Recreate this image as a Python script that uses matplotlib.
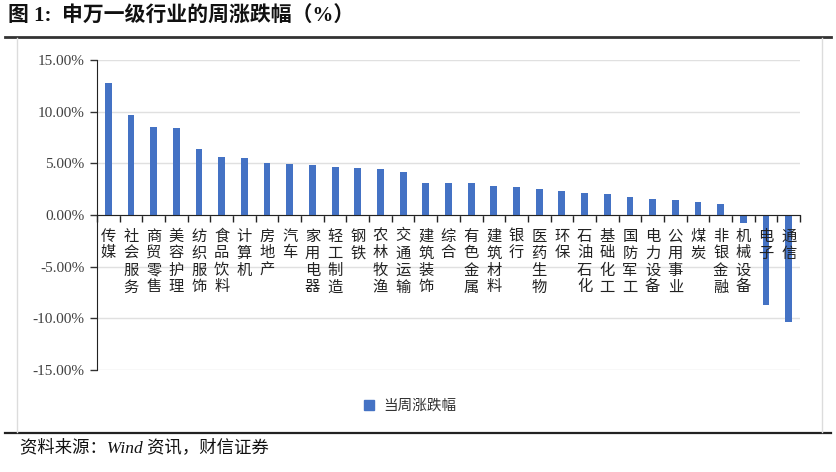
import matplotlib
matplotlib.use("Agg")
import matplotlib.pyplot as plt
from matplotlib.lines import Line2D
from matplotlib.ticker import FixedLocator, FuncFormatter
from matplotlib.patches import Patch
import numpy as np

plt.rcParams['font.family'] = ['Liberation Serif', 'Noto Sans CJK SC', 'DejaVu Sans']
plt.rcParams['axes.unicode_minus'] = False

categories = ["传媒", "社会服务", "商贸零售", "美容护理", "纺织服饰", "食品饮料", "计算机",
              "房地产", "汽车", "家用电器", "轻工制造", "钢铁", "农林牧渔", "交通运输",
              "建筑装饰", "综合", "有色金属", "建筑材料", "银行", "医药生物", "环保",
              "石油石化", "基础化工", "国防军工", "电力设备", "公用事业", "煤炭",
              "非银金融", "机械设备", "电子", "通信"]
values = [12.8, 9.7, 8.5, 8.4, 6.4, 5.6, 5.55, 5.0, 4.9, 4.8, 4.65, 4.55, 4.5, 4.2,
          3.1, 3.05, 3.05, 2.8, 2.75, 2.55, 2.3, 2.1, 2.05, 1.75, 1.55, 1.45, 1.3,
          1.05, -0.8, -8.7, -10.35]
yticks = [-15, -10, -5, 0, 5, 10, 15]
series_name = "当周涨跌幅"
title = "图 1:  申万一级行业的周涨跌幅（%）"
source = "资料来源：Wind 资讯，财信证券"

W, H = 837, 472
fig = plt.figure(figsize=(W / 100, H / 100), dpi=100)
ax = fig.add_axes([97 / W, 1 - 370 / H, (800 - 97) / W, (370 - 60) / H])

x = np.arange(len(categories))
bars = ax.bar(x, values, width=0.3, color="#4472C4", zorder=3, label=series_name)

ax.set_xlim(-0.5, len(categories) - 0.5)
ax.set_ylim(-15, 15)
ax.set_yticks(yticks)
ax.yaxis.set_major_formatter(FuncFormatter(lambda v, p: f"{v:.2f}%"))
ax.tick_params(axis='y', direction='out', length=5, width=1, color='#333333',
               labelsize=11, labelcolor='#404040', pad=4)
for t in ax.get_yticklabels():
    t.set_family(['Liberation Serif'])

ax.grid(axis='y', color='#e0e0e0', linewidth=1, zorder=0)
for s in ['top', 'right']:
    ax.spines[s].set_visible(False)
ax.spines['left'].set_color('#222222')
ax.spines['bottom'].set_position(('data', 0))
ax.spines['bottom'].set_color('#222222')
ax.spines['bottom'].set_zorder(4)

ax.set_xticks([])
ax.xaxis.set_minor_locator(FixedLocator(np.arange(-0.5, len(categories), 1.0)))
ax.tick_params(axis='x', which='minor', direction='out', length=5, width=1, color='#222222')
ax.tick_params(axis='x', which='major', length=0)

# vertical stacked category labels just under the zero line
for xi, name in zip(x, categories):
    ax.annotate("\n".join(name), xy=(xi, 0), xytext=(0, -9), textcoords='offset points',
                ha='center', va='top', fontsize=11, color='#222222',
                family=['Noto Sans CJK SC'], linespacing=1.0, zorder=5)

leg = fig.legend(handles=[Patch(color="#4472C4", label=series_name)],
                 loc='center', bbox_to_anchor=(410 / W, 1 - 406 / H), frameon=False,
                 handlelength=0.7, handleheight=0.7, handletextpad=0.6,
                 prop={'family': 'Noto Sans CJK SC', 'size': 10.5})
for t in leg.get_texts():
    t.set_color('#333333')

# title and rules
fig.text(8 / W, 1 - 17 / H, title, fontsize=15, fontweight='bold', ha='left', va='center',
         color='#111111')
fig.add_artist(Line2D([5 / W, 831 / W], [1 - 37 / H, 1 - 37 / H], color='#333333', lw=2,
                      transform=fig.transFigure))
fig.add_artist(Line2D([5 / W, 831 / W], [1 - 433 / H, 1 - 433 / H], color='#222222', lw=1.6,
                      transform=fig.transFigure))
# light frame
fig.add_artist(Line2D([17 / W, 17 / W], [1 - 38 / H, 1 - 432 / H], color='#dcdcdc', lw=1,
                      transform=fig.transFigure))
fig.add_artist(Line2D([822 / W, 822 / W], [1 - 38 / H, 1 - 432 / H], color='#dcdcdc', lw=1,
                      transform=fig.transFigure))
fig.text(20 / W, 1 - 448 / H, source, fontsize=12.5, style='italic', ha='left', va='center',
         color='#111111')

fig.savefig("out.png", dpi=100)
